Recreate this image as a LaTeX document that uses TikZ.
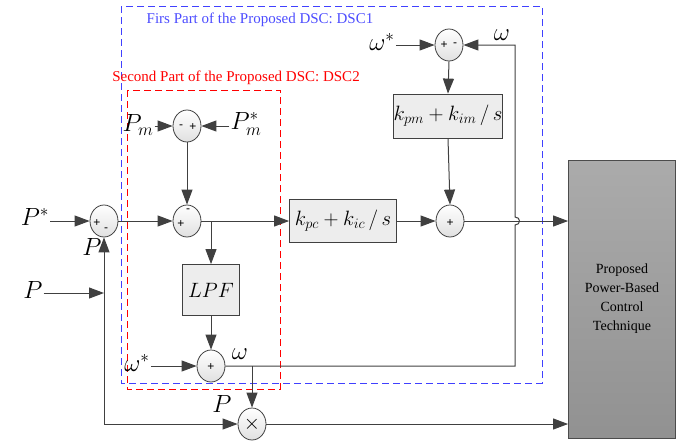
\documentclass[tikz,border=0pt]{standalone}
\usepackage{fontspec}
\setmainfont{Liberation Serif}
\newfontfamily\signfont{Liberation Sans}
\usetikzlibrary{arrows.meta,shapes.geometric}
\begin{document}
\begin{tikzpicture}[x=1pt, y=-1pt, >={Triangle[length=15pt,width=11pt]}, ->,
    wire/.style={black!75, line width=1pt},
    sum/.style={ellipse, draw=black!75, line width=0.8pt, minimum width=28pt, minimum height=32pt, inner sep=0pt, top color=white, bottom color=black!12},
    bloc/.style={rectangle, draw=black!75, line width=0.8pt, fill=black!7, inner sep=0pt, font=\fontsize{22}{24}\selectfont},
    lab/.style={inner sep=1pt, font=\fontsize{26}{28}\selectfont},
    sgn/.style={inner sep=0pt, font=\signfont\fontsize{12}{12}\selectfont},
    zone/.style={-, line width=1pt, dash pattern=on 7pt off 4pt}]
    \useasboundingbox (0,0) rectangle (690,440);

    % Zones
    \draw[zone, blue!75] (121,6) rectangle (542,383);
    \draw[zone, red] (127,90) rectangle (280,389);
    \node[text=blue!70, font=\fontsize{15}{15}\selectfont] (tDSCa) at (260,20) {Firs Part of the Proposed DSC: DSC1};
    \node[text=red, font=\fontsize{15}{15}\selectfont] (tDSCb) at (236,78) {Second Part of the Proposed DSC: DSC2};

    % Nœuds
    \node[sum] (sumA) at (104,221) {};
    \node[sum] (sumB) at (187,126) {};
    \node[sum] (sumC) at (187,221) {};
    \node[sum] (sumD) at (211,366) {};
    \node[sum] (sumE) at (449,45) {};
    \node[sum] (sumF) at (450,221) {};
    \node[sum, font=\fontsize{22}{22}\selectfont] (mult) at (252,424) {$\times$};
    \node[bloc, minimum width=107pt, minimum height=43pt] (kpc) at (343,221) {$k_{pc}+k_{ic}\,/\,s$};
    \node[bloc, minimum width=109pt, minimum height=44pt] (kpm) at (448,116) {$k_{pm}+k_{im}\,/\,s$};
    \node[bloc, minimum width=57pt, minimum height=51pt, font=\fontsize{21}{23}\selectfont] (lpf) at (211,290) {$LPF$};
    \node[rectangle, draw=black!70, line width=0.8pt, top color=black!33, bottom color=black!43, minimum width=107pt, minimum height=278pt, align=center, font=\fontsize{14}{19}\selectfont] (ctrl) at (622,299) {Proposed\\Power-Based\\Control\\Technique};

    % Signes
    \node[sgn] (sA1) at ([shift={(-7,2)}]sumA.center) {+};
    \node[sgn] (sA2) at ([shift={(2,9)}]sumA.center) {-};
    \node[sgn] (sB1) at ([shift={(-6,1)}]sumB.center) {-};
    \node[sgn] (sB2) at ([shift={(6,1)}]sumB.center) {+};
    \node[sgn] (sC1) at ([shift={(-6,3)}]sumC.center) {+};
    \node[sgn] (sC2) at ([shift={(1,-10)}]sumC.center) {-};
    \node[sgn] (sD1) at ([shift={(0,1)}]sumD.center) {+};
    \node[sgn] (sE1) at ([shift={(-5,0)}]sumE.center) {+};
    \node[sgn] (sE2) at ([shift={(6,0)}]sumE.center) {-};
    \node[sgn] (sF1) at ([shift={(0,2)}]sumF.center) {+};

    % Entrées et étiquettes
    \node[lab] (inPs) at (35,217) {$P^{*}$};
    \node[lab] (inP) at (33,290) {$P$};
    \node[lab] (lPa) at (92,247) {$P$};
    \node[lab] (lPb) at (222,404) {$P$};
    \node[lab] (inPm) at (138,125) {$P_m$};
    \node[lab] (inPms) at (246,124) {$P_m^{*}$};
    \node[lab] (inWs) at (137,363) {$\omega^{*}$};
    \node[lab] (lWa) at (240,354) {$\omega$};
    \node[lab] (inWt) at (382,42) {$\omega^{*}$};
    \node[lab] (lWb) at (502,35) {$\omega$};

    % Liaisons
    \draw[wire] (inPs.east |- sumA.west) -- (sumA.west);
    \coordinate (cBL) at (sumA.south |- mult.west);
    \draw[wire] (cBL) -- (sumA.south);
    \draw[wire] (cBL) -- (mult.west);
    \draw[wire] (inP.east |- 0,293) -- (sumA.south |- 0,293);
    \draw[wire] (sumA.east) -- (sumC.west);
    \draw[wire] (inPm.east |- sumB.west) -- (sumB.west);
    \draw[wire] (inPms.west |- sumB.east) -- (sumB.east);
    \draw[wire] (sumB.south) -- (sumC.north);
    \draw[wire] (sumC.east) -- (kpc.west);
    \coordinate (jL) at (lpf.north |- sumC.east);
    \draw[wire] (jL) -- (lpf.north);
    \draw[wire] (lpf.south) -- (sumD.north);
    \draw[wire] (inWs.east |- sumD.west) -- (sumD.west);
    \coordinate (hopS) at (515,225);
    \coordinate (hopN) at (515,217);
    \draw[wire] (sumD.east) -| (hopS) .. controls +(6,0) and +(6,0) .. (hopN) |- (sumE.east);
    \coordinate (jW) at (mult.north |- sumD.east);
    \draw[wire] (jW) -- (mult.north);
    \draw[wire] (inWt.east |- sumE.west) -- (sumE.west);
    \draw[wire] (sumE.south) -- (kpm.north);
    \draw[wire] (kpm.south) -- (sumF.north);
    \draw[wire] (kpc.east) -- (sumF.west);
    \draw[wire] (sumF.east) -- (sumF.east -| ctrl.west);
    \draw[wire] (mult.east) -- (mult.east -| ctrl.west);
\end{tikzpicture}
\end{document}
